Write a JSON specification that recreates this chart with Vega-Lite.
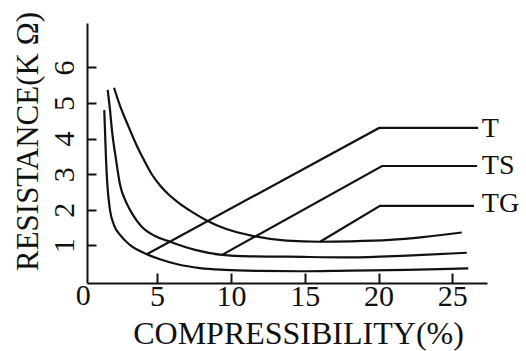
{
  "$schema": "https://vega.github.io/schema/vega-lite/v6.json",
  "width": 400,
  "height": 260,
  "autosize": {"type": "none"},
  "padding": {"left": 87, "top": 23, "right": 39, "bottom": 68},
  "background": "white",
  "config": {
    "view": {"stroke": null},
    "font": "Liberation Serif",
    "axis": {
      "grid": false,
      "labelFont": "Liberation Serif",
      "titleFont": "Liberation Serif",
      "labelColor": "#111",
      "titleColor": "#111",
      "domainColor": "#111",
      "tickColor": "#111",
      "domainWidth": 2,
      "tickWidth": 2,
      "titleFontWeight": "normal"
    }
  },
  "datasets": {
    "curves": [
      {"series": "T", "x": 1.42, "y": 4.80},
      {"series": "T", "x": 1.48, "y": 4.10},
      {"series": "T", "x": 1.54, "y": 3.40},
      {"series": "T", "x": 1.63, "y": 2.70},
      {"series": "T", "x": 1.81, "y": 1.99},
      {"series": "T", "x": 2.08, "y": 1.57},
      {"series": "T", "x": 2.49, "y": 1.29},
      {"series": "T", "x": 3.16, "y": 1.01},
      {"series": "T", "x": 4.30, "y": 0.75},
      {"series": "T", "x": 5.20, "y": 0.61},
      {"series": "T", "x": 6.44, "y": 0.46},
      {"series": "T", "x": 7.91, "y": 0.36},
      {"series": "T", "x": 9.60, "y": 0.31},
      {"series": "T", "x": 11.97, "y": 0.28},
      {"series": "T", "x": 14.68, "y": 0.27},
      {"series": "T", "x": 18.07, "y": 0.29},
      {"series": "T", "x": 21.91, "y": 0.31},
      {"series": "T", "x": 24.17, "y": 0.33},
      {"series": "T", "x": 26.08, "y": 0.35},
      {"series": "TS", "x": 1.65, "y": 5.37},
      {"series": "TS", "x": 1.81, "y": 4.80},
      {"series": "TS", "x": 1.94, "y": 4.24},
      {"series": "TS", "x": 2.22, "y": 3.40},
      {"series": "TS", "x": 2.49, "y": 2.70},
      {"series": "TS", "x": 2.94, "y": 2.18},
      {"series": "TS", "x": 3.37, "y": 1.85},
      {"series": "TS", "x": 3.96, "y": 1.52},
      {"series": "TS", "x": 4.86, "y": 1.26},
      {"series": "TS", "x": 5.87, "y": 1.10},
      {"series": "TS", "x": 7.57, "y": 0.87},
      {"series": "TS", "x": 9.40, "y": 0.73},
      {"series": "TS", "x": 11.29, "y": 0.69},
      {"series": "TS", "x": 13.78, "y": 0.68},
      {"series": "TS", "x": 18.07, "y": 0.66},
      {"series": "TS", "x": 21.91, "y": 0.71},
      {"series": "TS", "x": 25.98, "y": 0.79},
      {"series": "TG", "x": 2.08, "y": 5.43},
      {"series": "TG", "x": 2.49, "y": 4.92},
      {"series": "TG", "x": 3.05, "y": 4.35},
      {"series": "TG", "x": 3.57, "y": 3.85},
      {"series": "TG", "x": 4.18, "y": 3.34},
      {"series": "TG", "x": 4.65, "y": 2.99},
      {"series": "TG", "x": 5.20, "y": 2.68},
      {"series": "TG", "x": 5.80, "y": 2.42},
      {"series": "TG", "x": 6.44, "y": 2.20},
      {"series": "TG", "x": 7.36, "y": 1.94},
      {"series": "TG", "x": 8.36, "y": 1.70},
      {"series": "TG", "x": 9.60, "y": 1.47},
      {"series": "TG", "x": 11.52, "y": 1.26},
      {"series": "TG", "x": 13.78, "y": 1.13},
      {"series": "TG", "x": 16.04, "y": 1.10},
      {"series": "TG", "x": 18.07, "y": 1.11},
      {"series": "TG", "x": 20.78, "y": 1.15},
      {"series": "TG", "x": 23.01, "y": 1.23},
      {"series": "TG", "x": 25.64, "y": 1.36}
    ],
    "leaders": [
      {"series": "T", "x": 4.30, "y": 0.75},
      {"series": "T", "x": 20.04, "y": 4.30},
      {"series": "T", "x": 26.75, "y": 4.30},
      {"series": "TS", "x": 9.40, "y": 0.73},
      {"series": "TS", "x": 20.24, "y": 3.23},
      {"series": "TS", "x": 26.68, "y": 3.23},
      {"series": "TG", "x": 16.04, "y": 1.10},
      {"series": "TG", "x": 20.10, "y": 2.11},
      {"series": "TG", "x": 26.47, "y": 2.11}
    ],
    "labels": [
      {"label": "T", "x": 27.0, "y": 4.28},
      {"label": "TS", "x": 27.0, "y": 3.22},
      {"label": "TG", "x": 27.0, "y": 2.16}
    ],
    "origin": [
      {"label": "0", "x": 0, "y": -0.06}
    ]
  },
  "layer": [
    {
      "data": {"name": "curves"},
      "mark": {"type": "line", "interpolate": "monotone", "stroke": "#111", "strokeWidth": 2.2},
      "encoding": {
        "x": {
          "field": "x", "type": "quantitative",
          "scale": {"domain": [0.25, 27.35], "nice": false, "zero": false},
          "axis": {
            "values": [5, 10, 15, 20, 25],
            "labelFontSize": 30,
            "tickSize": -10,
            "labelPadding": 8,
            "labelBaseline": "top",
            "title": "COMPRESSIBILITY(%)",
            "titleFontSize": 32,
            "titleX": 211,
            "titleY": 60,
            "titleAlign": "center",
            "titleBaseline": "alphabetic"
          }
        },
        "y": {
          "field": "y", "type": "quantitative",
          "scale": {"domain": [-0.06, 7.25], "nice": false, "zero": false},
          "axis": {
            "values": [1, 2, 3, 4, 5, 6],
            "labelFontSize": 30,
            "labelAngle": 270,
            "labelAlign": "center",
            "labelBaseline": "alphabetic",
            "tickSize": -9,
            "labelPadding": 23,
            "title": "RESISTANCE(K Ω)",
            "titleFontSize": 31,
            "titleAngle": 270,
            "titleX": -50,
            "titleY": 118,
            "titleAlign": "center",
            "titleBaseline": "alphabetic"
          }
        },
        "detail": {"field": "series"}
      }
    },
    {
      "data": {"name": "leaders"},
      "mark": {"type": "line", "interpolate": "linear", "stroke": "#111", "strokeWidth": 2.2},
      "encoding": {
        "x": {"field": "x", "type": "quantitative"},
        "y": {"field": "y", "type": "quantitative"},
        "detail": {"field": "series"}
      }
    },
    {
      "data": {"name": "labels"},
      "mark": {"type": "text", "align": "left", "baseline": "middle", "fontSize": 28, "font": "Liberation Serif", "color": "#111"},
      "encoding": {
        "x": {"field": "x", "type": "quantitative"},
        "y": {"field": "y", "type": "quantitative"},
        "text": {"field": "label"}
      }
    },
    {
      "data": {"name": "origin"},
      "mark": {"type": "text", "align": "center", "baseline": "top", "dy": -2, "fontSize": 30, "font": "Liberation Serif", "color": "#111"},
      "encoding": {
        "x": {"field": "x", "type": "quantitative"},
        "y": {"field": "y", "type": "quantitative"},
        "text": {"field": "label"}
      }
    }
  ]
}
